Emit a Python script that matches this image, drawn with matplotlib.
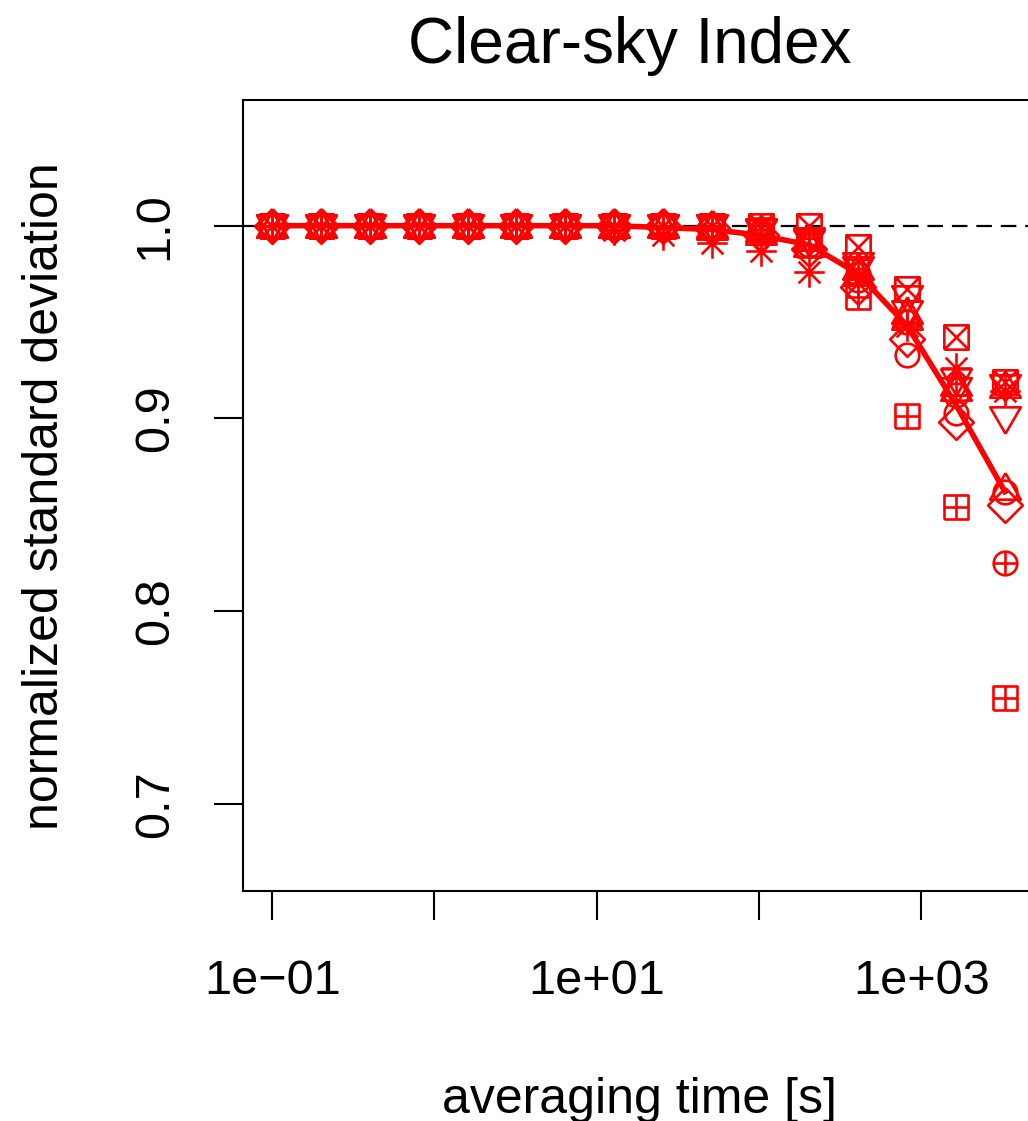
import matplotlib
matplotlib.use('Agg')
import matplotlib.pyplot as plt
from matplotlib.path import Path

plt.rcParams['font.family'] = ['Liberation Sans', 'DejaVu Sans']

# averaging windows [s]
avg_time = [0.1, 0.2, 0.4, 0.8, 1.6, 3.2, 6.4, 12.8, 25.6, 51.2,
            102.4, 204.8, 409.6, 819.2, 1638.4, 3276.8]

# normalized std of clear-sky index, one list per station
circle = [1, 1, 1, 1, 1, 1, 1, 1.000, 1.000, 1.000, 0.997, 0.993, 0.972, 0.933, 0.903, 0.862]
tri_up = [1, 1, 1, 1, 1, 1, 1, 1.000, 1.000, 0.999, 0.996, 0.990, 0.975, 0.952, 0.918, 0.864]
diamond = [1, 1, 1, 1, 1, 1, 1, 1.000, 1.000, 0.999, 0.995, 0.988, 0.968, 0.941, 0.898, 0.855]
tri_down = [1, 1, 1, 1, 1, 1, 1, 1.000, 1.000, 1.000, 0.997, 0.992, 0.980, 0.963, 0.920, 0.900]
sq_cross = [1, 1, 1, 1, 1, 1, 1, 1.000, 1.000, 1.000, 1.000, 1.000, 0.989, 0.967, 0.942, 0.919]
asterisk = [1, 1, 1, 1, 1, 1, 1, 0.998, 0.995, 0.991, 0.987, 0.976, 0.970, 0.948, 0.926, 0.914]
circ_plus = [1, 1, 1, 1, 1, 1, 1, 1.000, 1.000, 1.000, 0.996, 0.990, 0.975, 0.950, 0.912, 0.825]
sq_plus = [1, 1, 1, 1, 1, 1, 1, 1.000, 1.000, 1.000, 0.998, 0.990, 0.963, 0.901, 0.854, 0.755]
star = [1, 1, 1, 1, 1, 1, 1, 1.000, 1.000, 1.000, 0.998, 0.993, 0.978, 0.955, 0.915, 0.917]

# mean over stations
mean_std = [1, 1, 1, 1, 1, 1, 1, 1.000, 0.999, 0.998, 0.995, 0.990, 0.975, 0.948, 0.907, 0.862]


def seg(*pts):
    return Path(pts)


sq = Path([(-1, -1), (1, -1), (1, 1), (-1, 1), (-1, -1)])
circ = Path.unit_circle()
plus = Path.make_compound_path(seg((-1, 0), (1, 0)), seg((0, -1), (0, 1)))
xx = Path.make_compound_path(seg((-1, -1), (1, 1)), seg((-1, 1), (1, -1)))
up = Path([(0, 1), (-1, -0.73), (1, -0.73), (0, 1)])
down = Path([(0, -1), (-1, 0.73), (1, 0.73), (0, -1)])
dia = Path([(0, 1), (1, 0), (0, -1), (-1, 0), (0, 1)])
aster = Path.make_compound_path(plus, seg((-0.71, -0.71), (0.71, 0.71)),
                                seg((-0.71, 0.71), (0.71, -0.71)))

series = [
    (circle, circ, 17),
    (tri_up, up, 22),
    (diamond, dia, 25),
    (tri_down, down, 22),
    (sq_cross, Path.make_compound_path(sq, xx), 17.5),
    (asterisk, aster, 22),
    (circ_plus, Path.make_compound_path(circ, plus), 17),
    (sq_plus, Path.make_compound_path(sq, plus), 17.5),
    (star, Path.make_compound_path(up, down), 22),
]

fig = plt.figure(figsize=(10.28, 11.21), dpi=100)
ax = fig.add_axes([243 / 1028, 1 - 891 / 1121, 791 / 1028, 791 / 1121])

ax.axhline(1.0, color='black', lw=1.6, ls=(0, (7, 4)), zorder=1)

for vals, mk, ms in series:
    ax.plot(avg_time, vals, ls='none', marker=mk, ms=ms, mfc='none',
            mec='red', mew=1.9, zorder=2)

ax.plot(avg_time, mean_std, color='red', lw=4, zorder=3)

ax.set_xscale('log')
ax.set_xticks([0.1, 1, 10, 100, 1000, 10000])
ax.set_xticklabels(['1e\u221201', '', '1e+01', '', '1e+03', ''])
ax.xaxis.set_minor_locator(matplotlib.ticker.NullLocator())
ax.set_yticks([0.7, 0.8, 0.9, 1.0])
ax.set_yticklabels(['0.7', '0.8', '0.9', '1.0'])
ax.set_xlim(10 ** -1.18, 10 ** 3.695)
ax.set_ylim(0.6548, 1.0652)

ax.tick_params(axis='both', length=21, width=1.5, labelsize=35, direction='out')
ax.tick_params(axis='x', pad=28)
ax.tick_params(axis='y', pad=26, labelrotation=90)
for lbl in ax.get_yticklabels():
    lbl.set_va('center')

for sp in ax.spines.values():
    sp.set_linewidth(1.5)

fig.text(630 / 1028, 1 - 46 / 1121, 'Clear-sky Index', ha='center', va='center', fontsize=46)
fig.text(639 / 1028, 1 - 1100 / 1121, 'averaging time [s]', ha='center', va='center', fontsize=36)
fig.text(45 / 1028, 1 - 496 / 1121, 'normalized standard deviation', ha='center', va='center',
         rotation=90, fontsize=36)

fig.savefig('out.png', dpi=100)
